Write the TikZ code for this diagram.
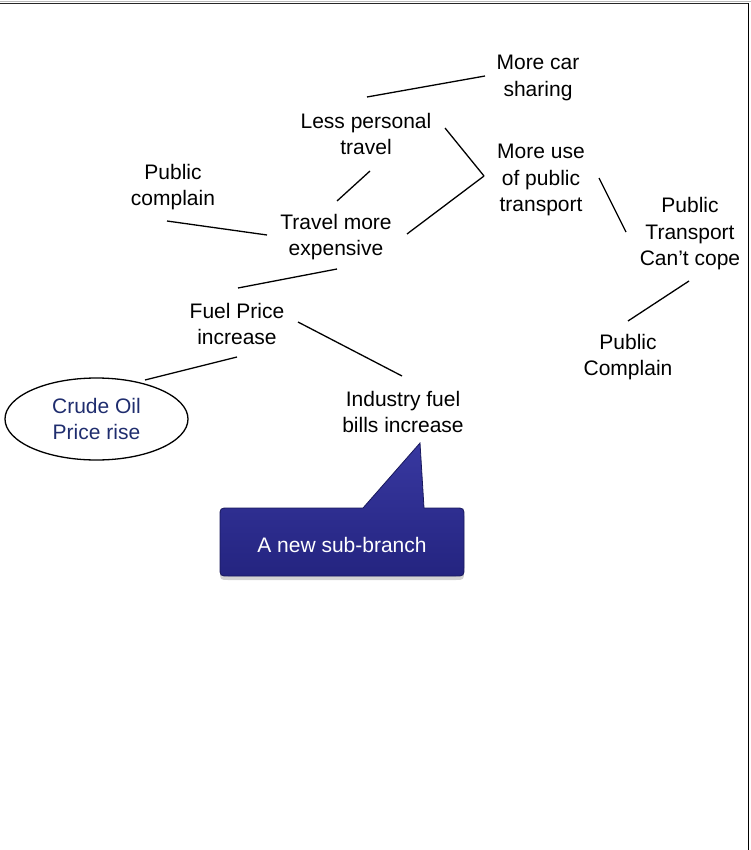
\documentclass[tikz,border=0pt]{standalone}
\usepackage{fontspec}
\setmainfont{Liberation Sans}
\usetikzlibrary{shapes.geometric,shadows}

\definecolor{navytext}{RGB}{31,45,110}
\definecolor{bubbletop}{RGB}{56,56,160}
\definecolor{bubblebot}{RGB}{36,36,128}
\definecolor{bubbleedge}{RGB}{24,24,92}

\begin{document}
\begin{tikzpicture}[x=1pt,y=-1pt,
  lbl/.style={align=center,font=\fontsize{21}{26.5}\selectfont,inner sep=0pt},
  link/.style={line width=1.3pt,black},
]
\useasboundingbox (0,0) rectangle (751,850);

% page frame: top rule and right rule
\draw[gray!55, line width=1.2pt] (0,1.6) -- (751,1.6);
\draw[black!85, line width=1.2pt] (0,3.6) -- (749,3.6);
\draw[black, line width=1.5pt] (748.5,3) -- (748.5,850);

% ideas
\node[lbl] (morecar)  at (538,78)  {More car\\sharing};
\node[lbl] (lesspers) at (366,134) {Less personal\\travel};
\node[lbl] (pubcomp)  at (173,187) {Public\\complain};
\node[lbl] (travel)   at (336,237) {Travel more\\expensive};
\node[lbl] (moreuse)  at (541,180) {More use\\of public\\transport};
\node[lbl] (ptcope)   at (690,234) {Public\\Transport\\Can’t cope};
\node[lbl] (pubComp2) at (628,357) {Public\\Complain};
\node[lbl] (fuel)     at (237,324) {Fuel Price\\increase};
\node[lbl] (industry) at (403,412) {Industry fuel\\bills increase};
\node[lbl, ellipse, draw, line width=1.3pt, text=navytext,
      minimum width=183pt, minimum height=82pt] (crude) at (96.5,419)
      {Crude Oil\\Price rise};

% connectors
\draw[link] ([shift={(1,-37)}]lesspers.center) -- ([shift={(-53,-2)}]morecar.center);
\draw[link] ([shift={(79,-6)}]lesspers.center) -- ([shift={(-57,-4)}]moreuse.center);
\draw[link] ([shift={(71,-3)}]travel.center) -- ([shift={(-57,-4)}]moreuse.center);
\draw[link] ([shift={(4,37)}]lesspers.center) -- ([shift={(1,-36)}]travel.center);
\draw[link] ([shift={(-6,34)}]pubcomp.center) -- ([shift={(-69,-2)}]travel.center);
\draw[link] ([shift={(1,32)}]travel.center) -- ([shift={(1,-36)}]fuel.center);
\draw[link] ([shift={(61,-2)}]fuel.center) -- ([shift={(-1,-36)}]industry.center);
\draw[link] ([shift={(0,33)}]fuel.center) -- ([shift={(48.5,-39)}]crude.center);
\draw[link] ([shift={(58,-2)}]moreuse.center) -- ([shift={(-64,-2)}]ptcope.center);
\draw[link] ([shift={(-1,47)}]ptcope.center) -- ([shift={(0,-36)}]pubComp2.center);

% speech bubble with its tail, corners rounded by hand
\path[drop shadow={opacity=0.35, shadow xshift=0pt, shadow yshift=-4pt},
      top color=bubbletop, bottom color=bubblebot, draw=bubbleedge, line width=0.8pt]
  (229,508) -- (363,508) -- (420,443) -- (424,508) -- (455,508)
  .. controls (464,508) .. (464,517) -- (464,567)
  .. controls (464,576) .. (455,576) -- (229,576)
  .. controls (220,576) .. (220,567) -- (220,517)
  .. controls (220,508) .. (229,508) -- cycle;
\node[lbl, text=white] (bubble) at (342,545) {A new sub-branch};
\end{tikzpicture}
\end{document}
